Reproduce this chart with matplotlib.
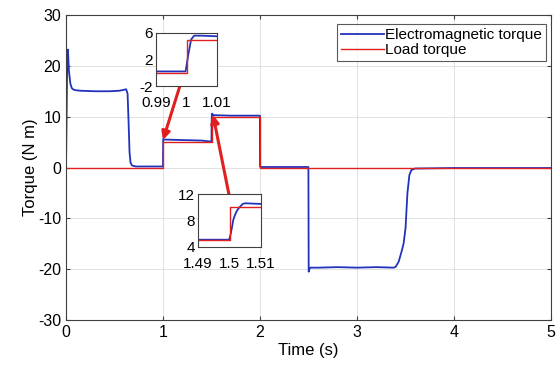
import numpy as np
import matplotlib.pyplot as plt

plt.rcParams['font.family'] = ['Liberation Sans', 'DejaVu Sans']
plt.rcParams['font.size'] = 11
plt.rcParams['axes.unicode_minus'] = False

# electromagnetic torque
t_em = [0, 0.005, 0.012, 0.02, 0.03, 0.045, 0.06, 0.08, 0.1, 0.15, 0.3, 0.45,
        0.55, 0.6, 0.62, 0.635, 0.645, 0.655, 0.665, 0.68, 0.72, 0.8,
        0.99, 0.9997, 1.0005, 1.0015, 1.0025, 1.005, 1.01, 1.2, 1.4, 1.49,
        1.4999, 1.5004, 1.5008, 1.5012, 1.5018, 1.5024, 1.5030, 1.5036, 1.5042,
        1.505, 1.51, 1.52, 1.7, 1.9, 1.999,
        2.0, 2.003, 2.2, 2.4, 2.499,
        2.502, 2.51, 2.52, 2.6, 2.8, 3.0, 3.2, 3.38, 3.4, 3.43, 3.46, 3.48,
        3.5, 3.52, 3.54, 3.56, 3.6, 4.0, 4.5, 5.0]
T_em = [0, 8, 20, 23.2, 19, 16.5, 15.6, 15.3, 15.2, 15.1, 15.0, 15.0,
        15.1, 15.3, 15.4, 14.5, 9, 3, 1.0, 0.4, 0.2, 0.2,
        0.2, 0.2, 2.5, 5.0, 5.6, 5.6, 5.5, 5.4, 5.3, 5.1,
        5.1, 6.0, 7.0, 8.1, 8.9, 9.5, 9.9, 10.2, 10.5,
        10.6, 10.5, 10.3, 10.2, 10.2, 10.2,
        0.3, 0.1, 0.1, 0.1, 0.1,
        -20.5, -19.9, -19.7, -19.7, -19.6, -19.7, -19.6, -19.7, -19.5, -18.5, -16.5, -15,
        -12, -5, -1.5, -0.5, -0.2, -0.1, -0.1, -0.1]

# load torque
t_load = [0, 1, 1, 1.5, 1.5, 2, 2, 5]
T_load = [0, 0, 5, 5, 10, 10, 0, 0]

xticks = [0, 1, 2, 3, 4, 5]
yticks = [-30, -20, -10, 0, 10, 20, 30]

zoom1_x = [0.99, 1, 1.01]
zoom1_y = [-2, 2, 6]
zoom2_x = [1.49, 1.5, 1.51]
zoom2_y = [4, 8, 12]

# arrow tail / head (data units of main axes)
arrow1 = ((1.175, 16.1), (1.0, 5.4))
arrow2 = ((1.68, -5.3), (1.515, 10.4))

blue = '#2233bb'
red = '#e02020'
edge = '#404040'

fig = plt.figure(figsize=(5.6, 3.74), dpi=100)
ax = fig.add_axes([66/560, 1-320/374, (551-66)/560, (320-15)/374])
ax.plot(t_em, T_em, color=blue, lw=1.3, label='Electromagnetic torque')
ax.plot(t_load, T_load, color=red, lw=1.0, label='Load torque')
ax.set_xlim(0, 5)
ax.set_ylim(-30, 30)
ax.set_xticks(xticks)
ax.set_yticks(yticks)
ax.grid(True, color='#dcdcdc', lw=0.6)
ax.tick_params(direction='in', top=True, right=True, length=3, color=edge, labelsize=11.5)
for s in ax.spines.values():
    s.set_color(edge)
    s.set_linewidth(0.8)
ax.set_xlabel('Time (s)', fontsize=12, labelpad=2)
ax.set_ylabel('Torque (N m)', fontsize=12, labelpad=0)
leg = ax.legend(loc='upper right', bbox_to_anchor=(0.99, 0.97), fontsize=11,
                frameon=True, fancybox=False, handlelength=2.8, handletextpad=0.1,
                borderpad=0.25, labelspacing=0.1, borderaxespad=0)
leg.get_frame().set_edgecolor('#303030')
leg.get_frame().set_linewidth(0.8)

for (tail, head) in (arrow1, arrow2):
    ax.annotate('', xy=head, xytext=tail,
                arrowprops=dict(arrowstyle='-|>', color=red, lw=2.2, mutation_scale=12,
                                shrinkA=0, shrinkB=0))


def inset(rect, xt, yt):
    a = fig.add_axes(rect)
    a.plot(t_em, T_em, color=blue, lw=1.3)
    a.plot(t_load, T_load, color=red, lw=1.0)
    a.set_xlim(xt[0], xt[-1])
    a.set_ylim(yt[0], yt[-1])
    a.set_xticks(xt)
    a.set_yticks(yt)
    a.set_xticklabels([f'{v:g}' for v in xt])
    a.tick_params(axis='x', direction='in', length=0, pad=7, labelsize=11)
    a.tick_params(axis='y', direction='in', length=0, pad=2, labelsize=11)
    for s in a.spines.values():
        s.set_color(edge)
        s.set_linewidth(0.8)
    return a


inset([156/560, 1-86/374, 61/560, 53/374], zoom1_x, zoom1_y)
inset([198/560, 1-247/374, 63/560, 53/374], zoom2_x, zoom2_y)

fig.savefig('out.png', dpi=100)
